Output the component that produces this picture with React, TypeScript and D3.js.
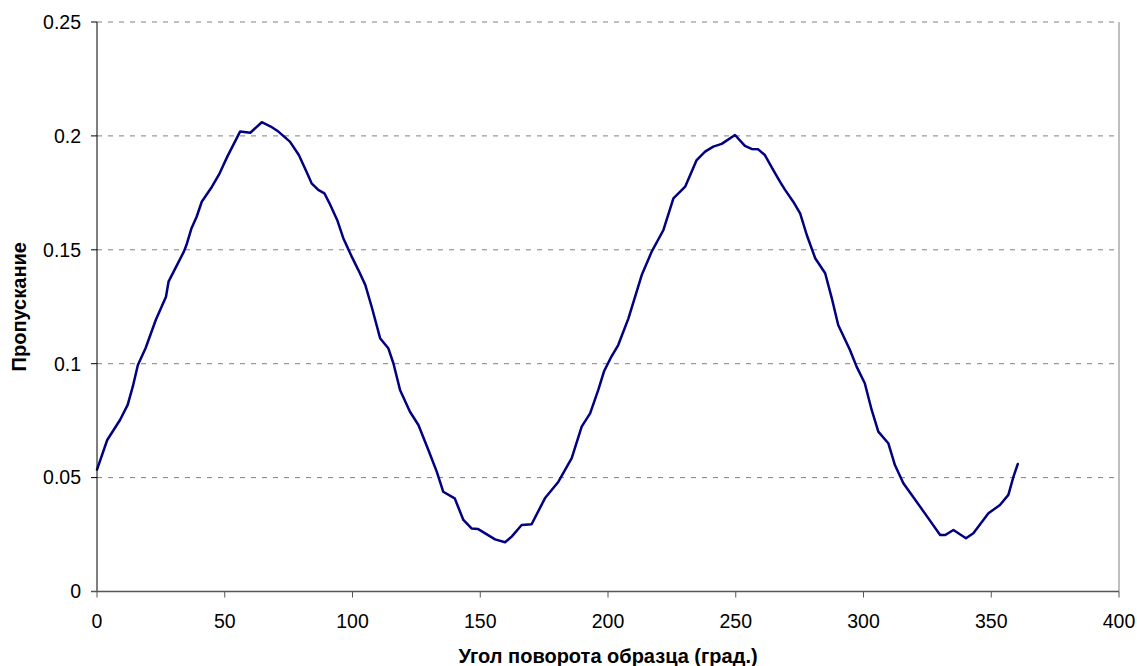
import React from "react";
import { scaleLinear, line, curveLinear } from "d3";

// angle of rotation (degrees) and transmission
const angles = [
  0, 4, 9, 12, 14, 16, 19, 23, 27, 28, 31, 34, 35, 37, 39, 41, 45, 48, 51, 53,
  56, 60, 64.5, 68, 71, 75.5, 79, 82, 84, 86.6, 89, 91, 94, 96.4, 99.7, 102.3,
  105, 107.5, 110.8, 114, 116, 118.6, 122.5, 125.8, 129.7, 133, 135.5, 140,
  143.4, 146.6, 149.2, 155.8, 159.7, 162.3, 166.2, 170.1, 175.3, 180.6, 185.8,
  189.7, 193, 196.2, 198.5, 201, 204, 208, 213.2, 217.1, 221.7, 225.6, 230.2,
  234.7, 238, 241.2, 244.5, 249.7, 253.6, 256.2, 258.8, 261.4, 264.7, 267.3,
  269.3, 272.5, 275.2, 277.8, 281.1, 285, 287.6, 290.1, 294.7, 297.3, 300.5,
  303.2, 305.8, 309.7, 312.3, 315.6, 318.9, 325.4, 330, 332, 335.2, 340.1,
  343, 348.9, 353.4, 356.7, 358.7, 360.4,
];
const transmission = [
  0.0535, 0.0665, 0.0753, 0.0819, 0.0899, 0.0994, 0.1068, 0.1192, 0.1294,
  0.136, 0.1426, 0.1492, 0.1521, 0.1595, 0.1645, 0.1711, 0.1777, 0.1836,
  0.1909, 0.1953, 0.2019, 0.2014, 0.206, 0.2041, 0.2019, 0.1975, 0.1916,
  0.1843, 0.1792, 0.1763, 0.1748, 0.1704, 0.1631, 0.1551, 0.147, 0.1411,
  0.1346, 0.125, 0.1112, 0.1068, 0.1002, 0.0885, 0.0789, 0.0731, 0.0621,
  0.0525, 0.0438, 0.0409, 0.0314, 0.0277, 0.0274, 0.0229, 0.0216, 0.0241,
  0.0292, 0.0295, 0.0409, 0.0482, 0.0585, 0.0724, 0.0782, 0.0885, 0.0968,
  0.1024, 0.1082, 0.1199, 0.1389, 0.1492, 0.1587, 0.1726, 0.1777, 0.1894,
  0.1931, 0.1953, 0.1965, 0.2004, 0.1956, 0.1943, 0.1941, 0.1916, 0.185,
  0.1799, 0.1763, 0.1711, 0.166, 0.1565, 0.1463, 0.1397, 0.1287, 0.117, 0.106,
  0.0987, 0.0914, 0.0797, 0.0702, 0.0651, 0.0555, 0.0475, 0.0424, 0.0321,
  0.0248, 0.0248, 0.027, 0.0234, 0.0256, 0.0343, 0.038, 0.0424, 0.0504, 0.056,
];

const xTicks = [0, 50, 100, 150, 200, 250, 300, 350, 400];
const yTicks = [0, 0.05, 0.1, 0.15, 0.2, 0.25];
const yTickLabels = ["0", "0.05", "0.1", "0.15", "0.2", "0.25"];

const xTitle = "Угол поворота образца (град.)";
const yTitle = "Пропускание";

const W = 1137;
const H = 666;
const margin = { top: 22, right: 18, bottom: 74.5, left: 97 };

export default function App() {
  const x = scaleLinear()
    .domain([0, 400])
    .range([margin.left, W - margin.right]);
  const y = scaleLinear()
    .domain([0, 0.25])
    .range([H - margin.bottom, margin.top]);

  const points = angles.map((a, i) => [a, transmission[i]] as [number, number]);
  const path = line<[number, number]>()
    .x((d) => x(d[0]))
    .y((d) => y(d[1]))
    .curve(curveLinear)(points);

  const font = "'Liberation Sans', Arial, sans-serif";
  const x0 = x(0);
  const x1 = x(400);
  const yBottom = y(0);
  const yTop = y(0.25);

  return (
    <svg
      width={W}
      height={H}
      style={{ position: "absolute", left: 0, top: 0, background: "#fff" }}
      fontFamily={font}
    >
      {/* grid lines */}
      {yTicks.slice(1).map((t) => (
        <line
          key={`g-${t}`}
          x1={x0}
          x2={x1}
          y1={y(t)}
          y2={y(t)}
          stroke="#808080"
          strokeWidth={1}
          strokeDasharray="5,6"
        />
      ))}

      {/* right border */}
      <line x1={x1} x2={x1} y1={yTop} y2={yBottom} stroke="#808080" strokeWidth={1} />

      {/* data line */}
      <path
        d={path ?? ""}
        fill="none"
        stroke="#000080"
        strokeWidth={2.5}
        strokeLinejoin="round"
        strokeLinecap="round"
      />

      {/* left axis */}
      <line x1={x0} x2={x0} y1={yTop} y2={yBottom} stroke="#000" strokeWidth={1} />
      {yTicks.map((t, i) => (
        <g key={`yt-${t}`}>
          <line x1={x0 - 6} x2={x0} y1={y(t)} y2={y(t)} stroke="#000" strokeWidth={1} />
          <text
            x={x0 - 16}
            y={y(t)}
            dy="0.35em"
            textAnchor="end"
            fontSize={19.5}
            fill="#000"
          >
            {yTickLabels[i]}
          </text>
        </g>
      ))}

      {/* bottom axis */}
      <line x1={x0 - 6} x2={x1} y1={yBottom} y2={yBottom} stroke="#555" strokeWidth={1.5} />
      {xTicks.map((t) => (
        <g key={`xt-${t}`}>
          <line x1={x(t)} x2={x(t)} y1={yBottom} y2={yBottom + 6} stroke="#555" strokeWidth={1} />
          <text
            x={x(t)}
            y={yBottom + 30}
            dy="0.35em"
            textAnchor="middle"
            fontSize={19.5}
            fill="#000"
          >
            {t}
          </text>
        </g>
      ))}

      {/* axis titles */}
      <text
        x={608}
        y={656}
        dy="0.35em"
        textAnchor="middle"
        fontSize={20}
        fontWeight="bold"
        fill="#000"
      >
        {xTitle}
      </text>
      <text
        transform={`translate(19, ${(yTop + yBottom) / 2}) rotate(-90)`}
        dy="0.35em"
        textAnchor="middle"
        fontSize={20}
        fontWeight="bold"
        fill="#000"
      >
        {yTitle}
      </text>
    </svg>
  );
}
